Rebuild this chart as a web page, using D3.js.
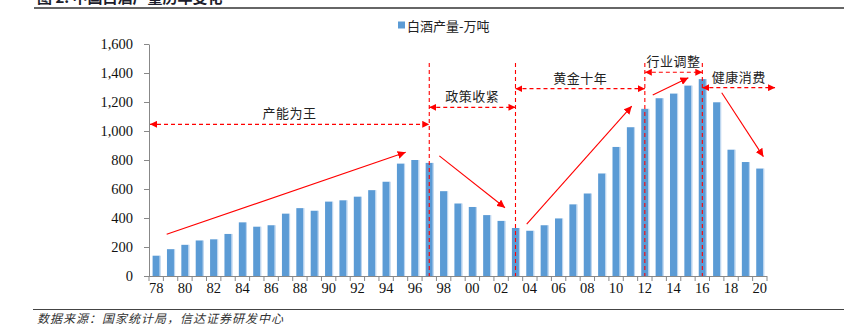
<!DOCTYPE html>
<html><head><meta charset="utf-8">
<script src="https://cdn.jsdelivr.net/npm/d3@7"></script>
<style>
html,body{margin:0;padding:0;background:#fff;}
svg{display:block;}
</style></head>
<body>
<svg id="c" width="857" height="334"></svg>
<script>
// ---- data ----
const years = d3.range(1978, 2021);
const production = [140,185,215,245,253,290,370,340,350,430,468,450,513,522,547,592,650,775,800,780,
  585,500,476,420,380,331,312,350,397,494,569,707,890,1026,1153,1226,1258,1313,1358,1198,871,786,741];
const tickYears = d3.range(1978, 2021, 2);
const yTicks = [0,200,400,600,800,1000,1200,1400,1600];
const seriesName = "白酒产量-万吨";
const titleText = "图 2:  中国白酒产量历年变化";
const sourceText = "数据来源：国家统计局，信达证券研发中心";
const dividerYears = [1997, 2003, 2012, 2016];
const dividerTop = 1469;
const phaseLabels = ["产能为王","政策收紧","黄金十年","行业调整","健康消费"];
const phaseFrom = [1977.57, 1997, 2003, 2012, 2016];
const phaseTo = [1997, 2003, 2012, 2016, 2021.06];
const phaseValue = [1046, 1163, 1292, 1405, 1299];
const trendFromYear = [1978.73, 1997.7, 2003.78, 2012.55, 2017.35];
const trendFromValue = [288, 828, 357, 1248, 1264];
const trendToYear = [1995.36, 2002.27, 2011.09, 2015.03, 2020.25];
const trendToValue = [853, 471, 1172, 1368, 823];

// ---- layout ----
const svg = d3.select("#c");
const mLeft = 149, mRight = 767, mTop = 44, mBottom = 276;
const x = d3.scaleBand().domain(years).range([mLeft, mRight]).paddingInner(0.5).paddingOuter(0.25);
const y = d3.scaleLinear().domain([0, 1600]).range([mBottom, mTop]);
const step = x.step();
const xc = yr => x(1978) + x.bandwidth()/2 + (yr - 1978) * step;

const red = "#FF0000";
const defs = svg.append("defs");
defs.append("marker").attr("id","ah").attr("viewBox","0 0 10 10")
  .attr("refX",10).attr("refY",5).attr("markerWidth",7).attr("markerHeight",7)
  .attr("markerUnits","userSpaceOnUse").attr("orient","auto-start-reverse")
  .append("path").attr("d","M0,0L10,5L0,10z").attr("fill",red);
defs.append("marker").attr("id","ah2").attr("viewBox","0 0 10 10")
  .attr("refX",10).attr("refY",5).attr("markerWidth",8).attr("markerHeight",8)
  .attr("markerUnits","userSpaceOnUse").attr("orient","auto")
  .append("path").attr("d","M0,0L10,5L0,10z").attr("fill",red);

// title + rules
svg.append("text").attr("x",37).attr("y",3).text(titleText)
  .attr("font-family","'Noto Sans CJK SC', sans-serif").attr("font-weight","bold")
  .attr("font-size",15).attr("fill","#1d1d2b");
svg.append("line").attr("x1",34).attr("x2",844).attr("y1",8).attr("y2",8)
  .attr("stroke","#333").attr("stroke-width",1.5);
svg.append("line").attr("x1",33).attr("x2",844).attr("y1",309.5).attr("y2",309.5)
  .attr("stroke","#444").attr("stroke-width",1.2);
svg.append("text").attr("x",37).attr("y",323).text(sourceText)
  .attr("font-family","'Noto Sans CJK SC', sans-serif").attr("font-style","italic")
  .attr("font-size",12).attr("letter-spacing",1).attr("fill","#333");

// legend
svg.append("rect").attr("x",398).attr("y",21.5).attr("width",7).attr("height",7).attr("fill","#5B9BD5");
svg.append("text").attr("x",407).attr("y",25).attr("dominant-baseline","central").text(seriesName)
  .attr("font-family","'Noto Sans CJK SC', sans-serif").attr("font-size",13).attr("fill","#222");

// bars
const bars = svg.append("g");
bars.selectAll("rect.b").data(years).join("rect").attr("class","b")
  .attr("x", d => x(d)).attr("width", x.bandwidth())
  .attr("y", (d,i) => y(production[i])).attr("height", (d,i) => mBottom - y(production[i]))
  .attr("fill","#5B9BD5");
bars.selectAll("rect.e").data(years).join("rect").attr("class","e")
  .attr("x", d => x(d) + x.bandwidth() - 0.2).attr("width", 1.2)
  .attr("y", (d,i) => y(production[i])).attr("height", (d,i) => mBottom - y(production[i]))
  .attr("fill","#BCD5EF");

// axes
const axisColor = "#888";
const yAxis = svg.append("g").attr("transform",`translate(${mLeft},0)`)
  .call(d3.axisLeft(y).tickValues(yTicks).tickFormat(d3.format(",")).tickSize(5).tickSizeOuter(0));
yAxis.selectAll("path,line").attr("stroke",axisColor);
yAxis.selectAll("text").attr("font-family","'Liberation Serif', serif").attr("font-size",14.5)
  .attr("fill","#111").attr("x",-16);

const xAxis = svg.append("g").attr("transform",`translate(0,${mBottom})`)
  .call(d3.axisBottom(x).tickValues(tickYears).tickFormat(d => String(d).slice(2)).tickSize(0).tickSizeOuter(0));
xAxis.select("path").attr("stroke",axisColor).attr("d",`M${mLeft},0.5H${mRight}`);
xAxis.selectAll("text").attr("font-family","'Liberation Serif', serif").attr("font-size",14.5)
  .attr("fill","#111").attr("dy","0.95em");
const bounds = years.map(d => x(d) - (step - x.bandwidth())/2).concat([mRight]);
svg.append("g").selectAll("line").data(bounds).join("line")
  .attr("x1", d => d).attr("x2", d => d).attr("y1", mBottom).attr("y2", mBottom + 5)
  .attr("stroke", axisColor);

// dividers
const ann = svg.append("g");
ann.selectAll("line.div").data(dividerYears).join("line").attr("class","div")
  .attr("x1", d => xc(d)).attr("x2", d => xc(d)).attr("y1", y(dividerTop)).attr("y2", mBottom)
  .attr("stroke", red).attr("stroke-width",1.1).attr("stroke-dasharray","4,3");

// phase arrows
ann.selectAll("line.ph").data(phaseLabels).join("line").attr("class","ph")
  .attr("x1",(d,i)=>xc(phaseFrom[i])).attr("x2",(d,i)=>xc(phaseTo[i]))
  .attr("y1",(d,i)=>y(phaseValue[i])).attr("y2",(d,i)=>y(phaseValue[i]))
  .attr("stroke",red).attr("stroke-width",1.1).attr("stroke-dasharray","4,3")
  .attr("marker-start","url(#ah)").attr("marker-end","url(#ah)");
ann.selectAll("text.ph").data(phaseLabels).join("text").attr("class","ph")
  .attr("x",(d,i)=>(xc(phaseFrom[i])+xc(phaseTo[i]))/2)
  .attr("y",(d,i)=>y(phaseValue[i]) - 11.5)
  .attr("text-anchor","middle").attr("dominant-baseline","central")
  .attr("font-family","'Noto Sans CJK SC', sans-serif").attr("font-size",13)
  .attr("letter-spacing",0.5).attr("fill","#222").text(d=>d);

// trend arrows
ann.selectAll("line.tr").data(trendFromYear).join("line").attr("class","tr")
  .attr("x1",(d,i)=>xc(trendFromYear[i])).attr("y1",(d,i)=>y(trendFromValue[i]))
  .attr("x2",(d,i)=>xc(trendToYear[i])).attr("y2",(d,i)=>y(trendToValue[i]))
  .attr("stroke",red).attr("stroke-width",1.1).attr("marker-end","url(#ah2)");
</script>
</body></html>
